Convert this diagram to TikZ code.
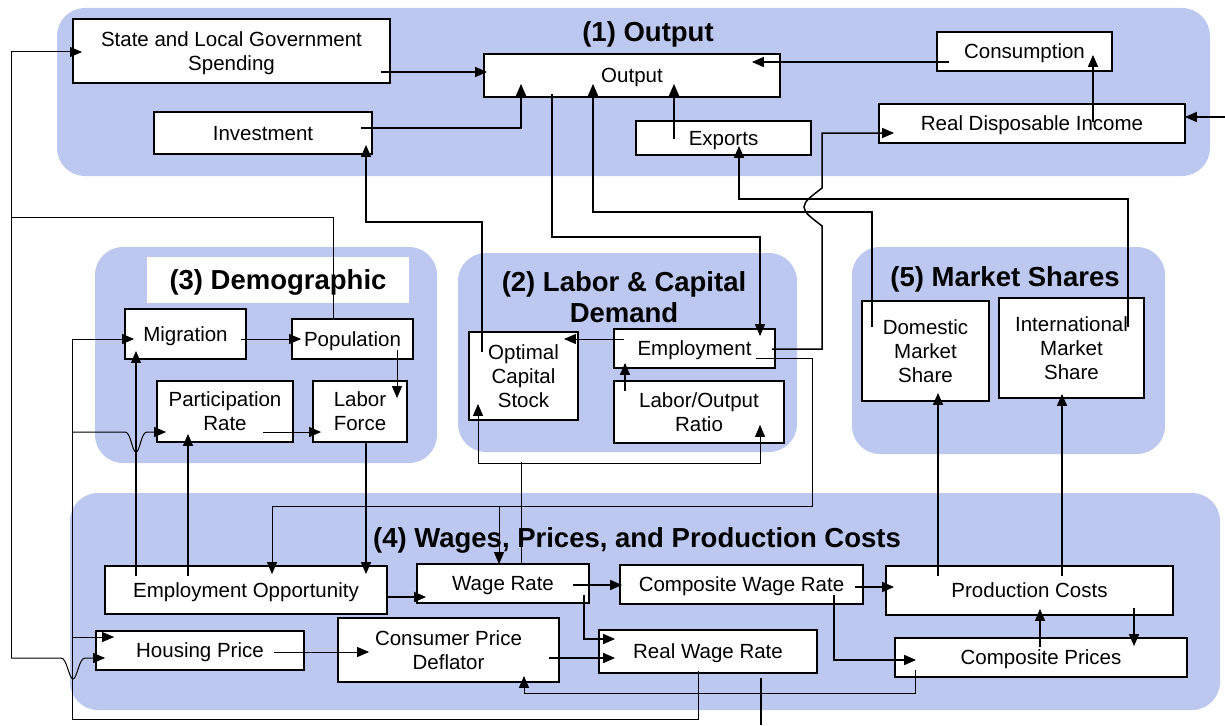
\documentclass[tikz,border=0pt]{standalone}
\usepackage{fontspec}
\setmainfont{Liberation Sans}
\usetikzlibrary{arrows.meta,calc}
\definecolor{panelc}{RGB}{189,200,240}
\newcommand{\boxfont}{\fontsize{20.5}{24}\selectfont}
\newcommand{\ttlfont}{\fontsize{27.5}{31}\selectfont\bfseries}
\tikzset{
  panel/.style={fill=panelc, rounded corners=28pt},
  blk/.style={draw, line width=1.8pt, fill=white, inner sep=0pt, align=center, font=\boxfont, text depth=-3pt},
  ttl/.style={font=\ttlfont, inner sep=0pt, align=center, text depth=0pt},
  conn/.style={line width=1.5pt},
  thinc/.style={line width=1pt},
  arr/.style={conn, -{Triangle[length=12pt,width=10pt]}},
  arrthin/.style={thinc, -{Triangle[length=12pt,width=10pt]}},
  arrboth/.style={thinc, {Triangle[length=12pt,width=10pt]}-{Triangle[length=12pt,width=10pt]}}
}
\begin{document}
\begin{tikzpicture}[x=1pt,y=-1pt]
\useasboundingbox (0,0) rectangle (1225,725);
\fill[white] (0,0) rectangle (1225,725);
% panels
\fill[panel] (57,8) rectangle (1210,176);
\fill[panel] (95,247) rectangle (437,463);
\fill[panel] (458,253) rectangle (797,452);
\fill[panel] (852,247) rectangle (1165,454);
\fill[panel] (70,493) rectangle (1220,710);
% titles
\node[ttl] (t1) at (648,32) {(1) Output};
\node[ttl, fill=white, minimum width=262pt, minimum height=46pt] (t3) at (278,280) {(3) Demographic};
\node[ttl] (t2) at (624,297.5) {(2) Labor \& Capital\\Demand};
\node[ttl] (t5) at (1005,277) {(5) Market Shares};
\node[ttl] (t4) at (637,538) {(4) Wages, Prices, and Production Costs};
% boxes
\node[blk, minimum width=317pt, minimum height=64pt] (slg) at (231.5,51) {State and Local Government\\Spending};
\node[blk, minimum width=296pt, minimum height=43pt] (outp) at (632,75.5) {Output};
\node[blk, minimum width=175pt, minimum height=39pt] (cons) at (1024.5,51.5) {Consumption};
\node[blk, minimum width=218pt, minimum height=42pt] (inv) at (263,133) {Investment};
\node[blk, minimum width=175pt, minimum height=34pt] (exp) at (723.5,138) {Exports};
\node[blk, minimum width=306pt, minimum height=39pt] (rdi) at (1032,123.5) {Real Disposable Income};
\node[blk, minimum width=121pt, minimum height=50pt] (mig) at (185.5,334) {Migration};
\node[blk, minimum width=121pt, minimum height=40pt] (pop) at (352.5,339) {Population};
\node[blk, minimum width=136pt, minimum height=61pt] (par) at (225,411.5) {Participation\\Rate};
\node[blk, minimum width=94pt, minimum height=61pt] (lab) at (360,411.5) {Labor\\Force};
\node[blk, minimum width=109pt, minimum height=88pt] (ocs) at (523.5,376) {Optimal\\Capital\\Stock};
\node[blk, minimum width=161pt, minimum height=39pt] (emp) at (694.5,348.5) {Employment};
\node[blk, minimum width=170pt, minimum height=62pt] (lor) at (699,412) {Labor/Output\\Ratio};
\node[blk, minimum width=127pt, minimum height=100pt] (dms) at (925.5,351) {Domestic\\Market\\Share};
\node[blk, minimum width=145pt, minimum height=100pt] (ims) at (1071.5,348) {International\\Market\\Share};
\node[blk, minimum width=282pt, minimum height=48pt] (eo) at (246,590) {Employment Opportunity};
\node[blk, minimum width=172pt, minimum height=39pt] (wr) at (503,583.5) {Wage Rate};
\node[blk, minimum width=243pt, minimum height=39pt] (cwr) at (741.5,584.5) {Composite Wage Rate};
\node[blk, minimum width=287pt, minimum height=49pt] (pc) at (1029.5,590.5) {Production Costs};
\node[blk, minimum width=208pt, minimum height=39pt] (hp) at (200,650.5) {Housing Price};
\node[blk, minimum width=221pt, minimum height=64pt] (cpd) at (448.5,650) {Consumer Price\\Deflator};
\node[blk, minimum width=218pt, minimum height=43pt] (rwr) at (708,651.5) {Real Wage Rate};
\node[blk, minimum width=292pt, minimum height=39pt] (cp) at (1041,657.5) {Composite Prices};
% free ends and rails
\coordinate (rdiin) at (1225,117);
\coordinate (rwrout) at (761,725);
\coordinate (lrail) at (11,658);
\coordinate (mrail) at (73,432);
\coordinate (hrail) at (73,637);
% output block
\draw[arr] ($(slg.east)+(-10,21)$) -- ($(outp.west)+(4,-3.5)$);
\draw[arr] ($(inv.east)+(-12,-5)$) -| ($(outp.south)+(-111,-14)$);
\draw[arr] ($(cons.west)+(13,10.5)$) -- ($(outp.east)+(-29,-13.5)$);
\draw[arr] ($(exp)+(-49.5,1)$) -- ($(outp.south)+(42,-14)$);
\draw[arr] ($(rdi)+(61,-1.5)$) -- ($(cons.south)+(68.5,-17)$);
\draw[arr] (rdiin) -- ($(rdi.east)+(-1,-6.5)$);
\draw[arrthin, line width=1.2pt] ($(outp.south)+(-80,-4)$) -- ++(0,143) -| ($(emp.north)+(65.5,8)$);
\draw[arr] ($(dms.west)+(11,-24)$) |- ($(outp.south)+(-39,114)$) -- ($(outp.south)+(-39,-14)$);
\draw[arr] ($(ims.east)+(-17,-21)$) |- ($(exp.south)+(15.5,43)$) -- ($(exp.south)+(15.5,-10)$);
\draw[arr] ($(emp.east)+(-4,0.5)$) -- (822,349) -- (822,226)
  .. controls (812,218) and (804,213) .. (804,207)
  .. controls (804,201) and (812,196) .. (822,188)
  |- ($(rdi.west)+(16,9.5)$);
\draw[arr] ($(ocs.north)+(-41.5,21)$) |- ($(inv.south)+(103,67)$) -- ($(inv.south)+(103,-10)$);
% population to SLG and housing
\draw[thinc] ($(pop.north)+(-19.5,0)$) -- ++(0,-101) -| (lrail);
\draw[arrthin] (lrail) |- ($(slg.west)+(10,1)$);
\draw[arrthin] (lrail) -- (61,658) .. controls (67,658) and (69,679) .. (73,679)
  .. controls (77,679) and (79,658) .. (85,658) -- ($(hp.west)+(10,7.5)$);
% demographic
\draw[arr] ($(eo.north)+(-110,11)$) -- ($(mig.south)+(-49.5,-9)$);
\draw[arr] ($(eo.north)+(-58,11)$) -- ($(par.south)+(-37,-9)$);
\draw[arrthin] ($(mig.east)+(-6,5)$) -- ($(pop.west)+(10,0)$);
\draw[arrthin] ($(pop.south)+(44.5,-10)$) -- ($(lab.north)+(37,18)$);
\draw[arrthin] ($(par.east)+(-31,20.5)$) -- ($(lab.west)+(9,20.5)$);
\draw[arrthin, line width=1.2pt] ($(lab.south)+(6,0)$) -- ($(eo.north)+(120,9)$);
% labor & capital
\draw[arrthin] ($(emp.east)+(-20,9.5)$) -- ++(57,0) |- ($(eo.north)+(26,-59)$) -- ($(eo.north)+(26,9)$);
\draw[arrthin] ($(wr.north)+(-4,-57)$) -- ($(wr.north)+(-4,1)$);
\draw[thinc] ($(wr.north)+(18,2)$) -- ($(wr.north)+(18,-101)$);
\draw[arrboth] ($(ocs.south)+(-45.5,-17)$) -- ($(ocs.south)+(-45.5,43)$) -- ($(lor.south)+(61,20)$) -- ($(lor.south)+(61,-19)$);
\draw[arr] ($(lor.north)+(-74,11)$) -- ($(emp.south)+(-69.5,-6)$);
\draw[arrthin] ($(emp.west)+(11,-9.5)$) -- ($(ocs.east)+(-15,-37)$);
% wages and prices
\draw[arr] ($(eo.east)+(-1,7)$) -- ($(wr.west)+(10,13.5)$);
\draw[arr] ($(wr.east)+(-17,1.5)$) -- ($(cwr.west)+(3,0.5)$);
\draw[arr] ($(wr.east)+(-6,11.5)$) |- ($(rwr.west)+(17,-12.5)$);
\draw[arr] ($(cpd.east)+(-11,8)$) -- ($(rwr.west)+(17,6.5)$);
\draw[arrthin] ($(hp.east)+(-31,1.5)$) -- ($(cpd.west)+(32,2)$);
\draw[arrthin] ($(cp.west)+(21,12.5)$) |- ($(cpd.south)+(75.5,11)$) -- ($(cpd.south)+(75.5,-7)$);
\draw[conn] ($(rwr.south)+(53,4)$) -- (rwrout);
\draw[arr] ($(cwr.east)+(-9,2.5)$) -- ($(pc.west)+(9,-3.5)$);
\draw[arr] ($(cwr.east)+(-30,10.5)$) |- ($(cp.west)+(22,2.5)$);
\draw[arr] ($(pc.south)+(104.5,-8)$) -- ($(cp.north)+(93,9)$);
\draw[arr] ($(cp.north)+(-1,10)$) -- ($(pc.south)+(10.5,-7)$);
\draw[arr] ($(pc.north)+(-91.5,11)$) -- ($(dms.south)+(12.5,-9)$);
\draw[arr] ($(pc.north)+(32.5,11)$) -- ($(ims.south)+(-9.5,-5)$);
% real wage rate feedback
\draw[arrthin] ($(rwr.south)+(-10,-3)$) -- ++(0,49) -| ($(mig.west)+(-52,5)$) -- ($(mig.west)+(10,5)$);
\draw[arrthin] (mrail) -- (125,432) .. controls (131,432) and (132,452) .. (136,452)
  .. controls (140,452) and (141,432) .. (147,432) -- ($(par.west)+(10,20.5)$);
\draw[arrthin] (hrail) -- ($(hp.west)+(19,-13.5)$);
\end{tikzpicture}
\end{document}
